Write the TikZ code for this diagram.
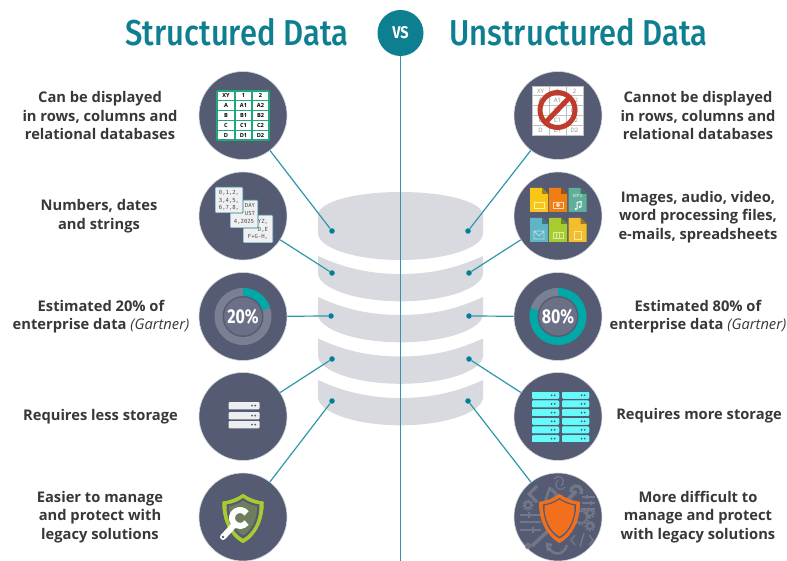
\documentclass[tikz,border=0pt]{standalone}
\usepackage{fontspec}
\setmainfont{Fira Sans}
\newfontfamily\ttl{Fira Sans Medium}
\newfontfamily\lab{Open Sans}
\newfontfamily\mon{DejaVu Sans Mono}
\usetikzlibrary{calc}
\definecolor{teal1}{HTML}{0E7F90}
\definecolor{link}{HTML}{2F97AB}
\definecolor{dotc}{HTML}{007F96}
\definecolor{disc}{HTML}{545B73}
\definecolor{cyl}{HTML}{D8DADF}
\definecolor{ringg}{HTML}{7A7F93}
\definecolor{ringc}{HTML}{00A9A8}
\definecolor{midg}{HTML}{6B7086}
\definecolor{tblg}{HTML}{1FA878}
\definecolor{srvcy}{HTML}{66FBFB}
\definecolor{srvw}{HTML}{EDEEF0}
\definecolor{lime}{HTML}{A9CB2E}
\definecolor{orng}{HTML}{F26F1E}
\definecolor{stopr}{HTML}{BF3B2B}
\definecolor{tool}{HTML}{737888}
\definecolor{cardb}{HTML}{2A6F85}
\definecolor{cardf}{HTML}{EEF0F2}
\definecolor{fa}{HTML}{F7C617}
\definecolor{fb}{HTML}{F07F13}
\definecolor{fc}{HTML}{5FAF9A}
\definecolor{fd}{HTML}{5FB5C5}
\definecolor{fe}{HTML}{A8CC2F}
\definecolor{ff}{HTML}{F2BE2C}
\tikzset{
  x=1pt,y=-1pt,
  title/.style={text=teal1,font=\ttl\fontsize{36}{36}\selectfont,inner sep=0pt},
  lbl/.style={font=\lab\bfseries\fontsize{14.7}{18.6}\selectfont,text=black!78,align=center,inner sep=0pt},
  bubble/.style={circle,fill=disc,draw=disc!25!white,line width=.6pt,minimum size=88pt,inner sep=0pt},
  dotn/.style={circle,fill=dotc,minimum size=5.5pt,inner sep=0pt},
  linkl/.style={draw=link,line width=1.2pt},
  cell/.style={font=\lab\bfseries\fontsize{5.6}{5.6}\selectfont,inner sep=0pt},
  paper/.style={fill=cardf,draw=cardb,line width=.8pt,rounded corners=.6pt},
  mono/.style={font=\mon\fontsize{5.6}{7.7}\selectfont,text=black!70,align=center,inner sep=0pt},
  pct/.style={text=white,font=\bfseries\fontsize{20}{20}\selectfont,inner sep=0pt,xscale=.8},
  toolb/.style={draw=tool,line width=2pt},
}
\newcommand{\band}[1]{%
  \fill[cyl] (318,#1) .. controls (343,#1+11.5) and (368,#1+18) .. (400.5,#1+18)
    .. controls (433,#1+18) and (458,#1+11.5) .. (483,#1)
    -- (483,#1+17) .. controls (483,#1+32) and (446,#1+45.3) .. (400.5,#1+45.3)
    .. controls (355,#1+45.3) and (318,#1+32) .. (318,#1+17) -- cycle;}
\newcommand{\srvbar}[5]{% x y w h colour
  \fill[#5,rounded corners=1pt] (#1,#2) rectangle ++(#3,#4);
  \fill[disc] (#1+#3-7.5,#2+#4/2) circle (1) (#1+#3-4.3,#2+#4/2) circle (1);}
\newcommand{\docic}[3]{% x y colour
  \fill[#3] (#1,#2) -- ++(12,0) -- ++(6,6) -- ++(0,18) -- ++(-18,0) -- cycle;
  \fill[#3!65!black] (#1+12,#2) -- ++(0,6) -- ++(6,0) -- cycle;}
\newcommand{\gearic}[3]{% x y r
  \draw[tool,line width=1.8pt] (#1,#2) circle (#3);
  \draw[tool,line width=2pt,dash pattern=on 1.6pt off 1.6pt] (#1,#2) circle (#3+1.6);}
\newcommand{\shieldpath}[4]{% cx top halfwidth height
  (#1,#2) .. controls (#1+#3*.3,#2+#4*.09) and (#1+#3*.65,#2+#4*.14) .. (#1+#3,#2+#4*.16)
  .. controls (#1+#3*1.02,#2+#4*.55) and (#1+#3*.6,#2+#4*.87) .. (#1,#2+#4)
  .. controls (#1-#3*.6,#2+#4*.87) and (#1-#3*1.02,#2+#4*.55) .. (#1-#3,#2+#4*.16)
  .. controls (#1-#3*.65,#2+#4*.14) and (#1-#3*.3,#2+#4*.09) .. (#1,#2) -- cycle}
\begin{document}
\begin{tikzpicture}
\useasboundingbox (0,0) rectangle (787,561);
\fill[white] (0,0) rectangle (787,561);
% cylinder
\fill[cyl] (318,215) .. controls (318,202) and (355,192) .. (400.5,192)
   .. controls (446,192) and (483,202) .. (483,215) -- (483,233)
   .. controls (483,248) and (446,260) .. (400.5,260)
   .. controls (355,260) and (318,248) .. (318,233) -- cycle;
\band{256}\band{297}\band{338.5}\band{380}
% centre line and VS
\coordinate (lineend) at (400.5,561);
\node[circle,fill=teal1,minimum size=46pt,inner sep=0pt,text=white,font=\bfseries\fontsize{17}{17}\selectfont] (vs) at (400.5,33) {\scalebox{.85}[1]{VS}};
\draw[linkl] (vs) -- (lineend);
% titles
\node[title,xscale=.86] (t1) at (237,32) {Structured Data};
\node[title,xscale=.86] (t2) at (578.5,32) {Unstructured Data};
% bubbles
\foreach \n/\y in {1/115.5,2/216,3/316.5,4/416.5,5/517}{
  \node[bubble] (L\n) at (243,\y) {};
  \node[bubble] (R\n) at (558,\y) {};
}
% dots
\node[dotn] (dl1) at (332,231) {};
\node[dotn] (dl2) at (332,273) {};
\node[dotn] (dl3) at (331,316) {};
\node[dotn] (dl4) at (332,359) {};
\node[dotn] (dl5) at (332,401) {};
\node[dotn] (dr1) at (468,231) {};
\node[dotn] (dr2) at (469,273) {};
\node[dotn] (dr3) at (469,316) {};
\node[dotn] (dr4) at (469,359) {};
\node[dotn] (dr5) at (468,401) {};
\foreach \n in {1,...,5}{
  \draw[linkl] (L\n) -- (dl\n);
  \draw[linkl] (R\n) -- (dr\n);
}
% icon 1L table
\fill[white] (217,91) rectangle (269,140);
\foreach \i in {0,...,5} \draw[tblg,line width=1.1pt] (217,91+\i*9.8) -- (269,91+\i*9.8);
\foreach \xx in {217,235,252,269} \draw[tblg,line width=1.1pt] (\xx,91) -- (\xx,140);
\foreach \a/\b/\c [count=\r from 0] in {XY/1/2,A/A1/A2,B/B1/B2,C/C1/C2,D/D1/D2}{
  \node[cell] at (226,95.9+\r*9.8) {\a};
  \node[cell] at (243.5,95.9+\r*9.8) {\b};
  \node[cell] at (260.5,95.9+\r*9.8) {\c};
}
% icon 2L papers
\draw[paper] (243,215) rectangle (273,243);
\node[mono] at (258,229.5) {\hspace*{10pt}YZ,\\\hspace*{10pt}D,E\\F+G-H,};
\draw[paper] (230,200) rectangle (258,228);
\node[mono] at (244,214) {\hspace*{12pt}DAY\\\hspace*{12pt}UST\\4,2025};
\draw[paper] (215,187) rectangle (243,213);
\node[mono] at (229,200.5) {0,1,2,\\3,4,5,\\6,7,8,};
% icon 3L
\fill[ringg] (243,316.5) circle (28.5);
\fill[ringc] (243,316.5) -- (243,288) arc[start angle=-90,end angle=-18,radius=28.5] -- cycle;
\fill[disc] (243,316.5) circle (20.5);
\fill[midg] (243,316.5) circle (19);
\node[pct] (p20) at (243,316.5) {20\%};
% icon 3R
\fill[ringc] (558,316.5) circle (28.5);
\fill[ringg] (558,316.5) -- (558,288) arc[start angle=-90,end angle=-162,radius=28.5] -- cycle;
\fill[disc] (558,316.5) circle (20.5);
\fill[midg] (558,316.5) circle (19);
\node[pct] (p80) at (558,316.5) {80\%};
% icon 4L servers
\foreach \yy in {402,412,421} \srvbar{228.5}{\yy}{31}{7.4}{srvw}
% icon 4R servers
\foreach \yy in {392,400.7,409.3,418,426.7,435.3}{
  \srvbar{532}{\yy}{27}{6.5}{srvcy}
  \srvbar{562}{\yy}{27}{6.5}{srvcy}
}
% icon 5L shield
\fill[lime] \shieldpath{243}{494}{20.5}{49};
\fill[disc] \shieldpath{243}{498}{16.5}{40.5};
\fill[lime!30!disc] \shieldpath{243}{500.5}{14}{35};
\draw[white,line width=6pt,line cap=round] (223,537) -- (235,524);
\fill[disc] (223,537) circle (1.3);
\draw[white,line width=6pt] (246.55,513.4) arc[start angle=-35,end angle=-325,radius=8];
% icon 5R tools
\draw[toolb,line width=3pt] (537,486) -- (529,494) -- (537,502);
\draw[toolb,line width=2.5pt] (550,487) -- (545,502);
\draw[toolb,line width=3pt] (551,489) -- (557,495) -- (551,501);
\draw[toolb,line width=1.2pt] (554,479) arc[start angle=-150,end angle=60,radius=5];
\draw[toolb,line width=1.2pt] (565,487) arc[start angle=30,end angle=240,radius=5];
\draw[toolb,line width=4pt] (565,503) -- (576,491);
\draw[toolb,line width=3.2pt] (581,494) arc[start angle=30,end angle=-190,radius=5.5];
\foreach \yy in {497,503,509} \draw[toolb,line width=1.5pt] (582,\yy) -- (595,\yy);
\draw[toolb,line width=2pt] (587,495) -- (587,499) (591,501) -- (591,505);
\gearic{528}{505}{3.2}
\foreach \yy in {515,522,530} \draw[toolb,line width=1.8pt] (520,\yy) -- (541,\yy);
\draw[toolb,line width=2pt] (529,512) -- (529,518) (533,527) -- (533,533);
\gearic{581}{517}{6}
\gearic{590}{513}{3}
\gearic{590}{526}{3}
\draw[toolb,line width=3.5pt] (532,546) -- (548,531);
\draw[toolb,line width=2.2pt] (528,546) circle (2);
\draw[toolb,line width=2.4pt] (549,547) .. controls (552,556) and (564,556) .. (567,545);
\draw[toolb,line width=2.4pt] (552,545) -- (547,544) -- (548,551);
\draw[toolb,line width=1.4pt] (575,535) -- (571,540) -- (575,545) (589,535) -- (593,540) -- (589,545) (584,533) -- (580,547);
\fill[orng] \shieldpath{559.5}{494}{20.5}{49};
\fill[disc] \shieldpath{559.5}{498}{16.5}{40.5};
\fill[orng] \shieldpath{559.5}{499.5}{15}{37};
% icon 1R
\fill[white] (532,86) rectangle (583,135);
\draw[black!25,line width=.6pt] (532,86) rectangle (583,135);
\foreach \i in {1,...,4} \draw[black!25,line width=.6pt] (532,86+\i*9.8) -- (583,86+\i*9.8);
\foreach \xx in {549,566} \draw[black!25,line width=.6pt] (\xx,86) -- (\xx,135);
\foreach \a/\b/\c [count=\r from 0] in {XY/1/2,A/A1/A2,B/B1/B2,C/C1/C2,D/D1/D2}{
  \node[cell,text=black!45,font=\lab\fontsize{6}{6}\selectfont] at (540.5,91+\r*9.8) {\a};
  \node[cell,text=black!45,font=\lab\fontsize{6}{6}\selectfont] at (557.5,91+\r*9.8) {\b};
  \node[cell,text=black!45,font=\lab\fontsize{6}{6}\selectfont] at (574.5,91+\r*9.8) {\c};
}
\draw[stopr,line width=5pt] (557.5,110) circle (17.5);
\draw[stopr,line width=5pt] (545.5,122.5) -- (569.5,97.5);
% icon 2R files
\docic{530}{188}{fa}
\docic{549}{188}{fb}
\docic{568.5}{188}{fc}
\docic{530}{218}{fd}
\docic{549}{218}{fe}
\docic{568.5}{218}{ff}
\draw[white!70!fa,line width=.7pt] (534,202) rectangle (544,208);
\draw[white!70!fb,line width=.7pt] (553,202) rectangle (563,208);
\fill[white!70!fb] (558,205) circle (2);
\node[font=\lab\bfseries\fontsize{4.5}{4.5}\selectfont,text=white!55!fc,inner sep=0pt] at (577.5,196) {MP3};
\draw[white,line width=1pt] (577,209) -- (577,202.5) -- (581,201.5) -- (581,207);
\fill[white] (575.8,209) circle (1.3) (579.8,207) circle (1.3);
\draw[white!60!fd,line width=.7pt] (534,231) rectangle (544,239) (534,231) -- (539,236) -- (544,231);
\draw[white!60!fe,line width=.7pt] (553,232) rectangle (563,238) (556.3,232) -- (556.3,238) (559.7,232) -- (559.7,238);
\draw[white!60!ff,line width=.7pt] (574,231) rectangle (581,239);
% labels
\node[lbl] (a1) at (100,115.5) {Can be displayed\\in rows, columns and\\relational databases};
\node[lbl] (a2) at (99,216) {Numbers, dates\\and strings};
\node[lbl] (a3) at (101,316.5) {Estimated 20\% of\\enterprise data {\itshape\mdseries (Gartner)}};
\node[lbl] (a4) at (100.5,417) {Requires less storage};
\node[lbl] (a5) at (100,517) {Easier to manage\\and protect with\\legacy solutions};
\node[lbl] (b1) at (698,115.5) {Cannot be displayed\\in rows, columns and\\relational databases};
\node[lbl] (b2) at (698,217) {Images, audio, video,\\word processing files,\\e-mails, spreadsheets};
\node[lbl] (b3) at (698,316.5) {Estimated 80\% of\\enterprise data {\itshape\mdseries (Gartner)}};
\node[lbl] (b4) at (699,416) {Requires more storage};
\node[lbl] (b5) at (698,517) {More difficult to\\manage and protect\\with legacy solutions};
\end{tikzpicture}
\end{document}
